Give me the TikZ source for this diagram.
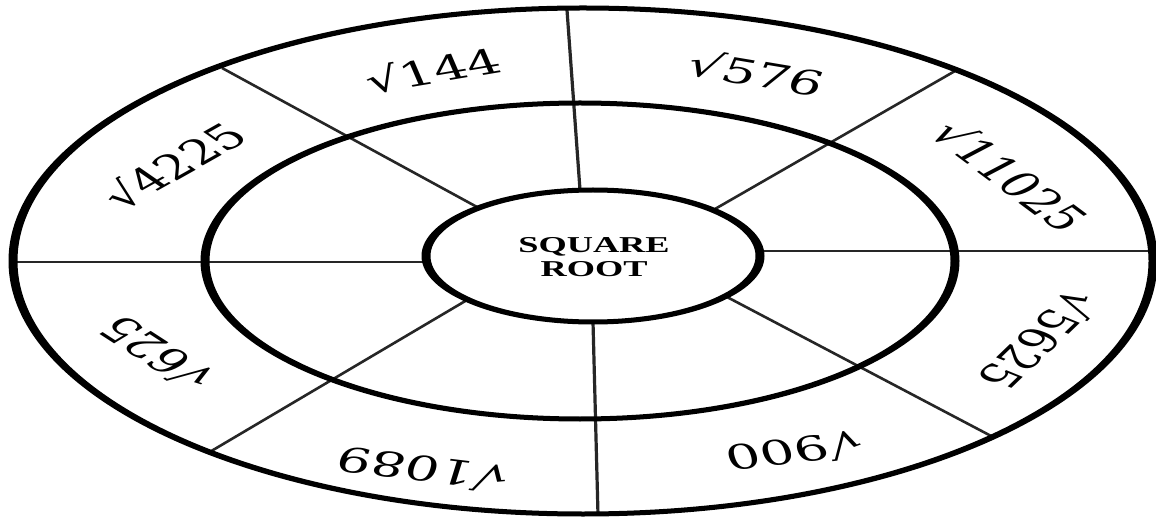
\documentclass[tikz,border=0pt]{standalone}
\usepackage{fontspec}
\newfontfamily\labfont{DejaVu Serif}
\newfontfamily\ctrfont{Liberation Serif}
\newcommand\seglabel[4]{%
  \begin{scope}[shift={(#1,#2)},xscale=1.6,rotate=#3]
    \node[lab] (lab#4) at (0,0) {√#4};
  \end{scope}}
\begin{document}
\begin{tikzpicture}[x=1pt,y=1pt,
  ring/.style={fill=black,even odd rule},
  spoke/.style={line width=2.6pt,draw=black!85},
  lab/.style={font=\labfont\fontsize{34}{40}\selectfont,inner sep=0pt,transform shape},
  ctr/.style={font=\ctrfont\bfseries\fontsize{22.7}{24}\selectfont,inner sep=0pt,align=center,transform shape}]
\useasboundingbox (0,0) rectangle (1156,-518);
\fill[white] (0,0) rectangle (1156,-518);

% spoke end points
\coordinate (t1) at (567,-10);   \coordinate (t2) at (580,-190);
\coordinate (b1) at (593,-322);  \coordinate (b2) at (598,-515);
\coordinate (l1) at (14,-262);   \coordinate (l2) at (428,-262);
\coordinate (r1) at (759,-251);  \coordinate (r2) at (1153,-251);
\coordinate (tl1) at (222,-68);  \coordinate (tl2) at (477,-207);
\coordinate (tr1) at (955,-71);  \coordinate (tr2) at (715,-209);
\coordinate (bl1) at (208,-453); \coordinate (bl2) at (467,-300);
\coordinate (br1) at (993,-437); \coordinate (br2) at (727,-297);

\draw[spoke,line width=3.2pt] (t1) -- (t2);
\draw[spoke,line width=3.2pt] (b1) -- (b2);
\draw[spoke,line width=2.2pt] (l1) -- (l2);
\draw[spoke,line width=2.2pt] (r1) -- (r2);
\draw[spoke] (tl1) -- (tl2);
\draw[spoke] (tr1) -- (tr2);
\draw[spoke] (bl1) -- (bl2);
\draw[spoke] (br1) -- (br2);

% rings (thicker at the sides, as in the stretched original)
\fill[ring] (583,-261) ellipse [x radius=574.5, y radius=255.5]
            (583,-261) ellipse [x radius=565.5, y radius=250.5];
\fill[ring] (580,-261) ellipse [x radius=379.5, y radius=160.5]
            (580,-261) ellipse [x radius=370.5, y radius=155.5];
\fill[ring] (593,-256) ellipse [x radius=171.5, y radius=68.5]
            (593,-256) ellipse [x radius=162.5, y radius=63.5];

% labels
\seglabel{433}{-70}{15}{144}
\seglabel{757}{-73}{-15}{576}
\seglabel{1011}{-176}{-50}{11025}
\seglabel{1040}{-341}{-123}{5625}
\seglabel{795}{-452}{-169}{900}
\seglabel{422}{-470}{169}{1089}
\seglabel{156}{-354}{134}{625}
\seglabel{173}{-165}{42}{4225}

\begin{scope}[shift={(594,-257)},xscale=1.6]
  \node[ctr] (centre) at (0,0) {SQUARE\\ROOT};
\end{scope}
\end{tikzpicture}
\end{document}
